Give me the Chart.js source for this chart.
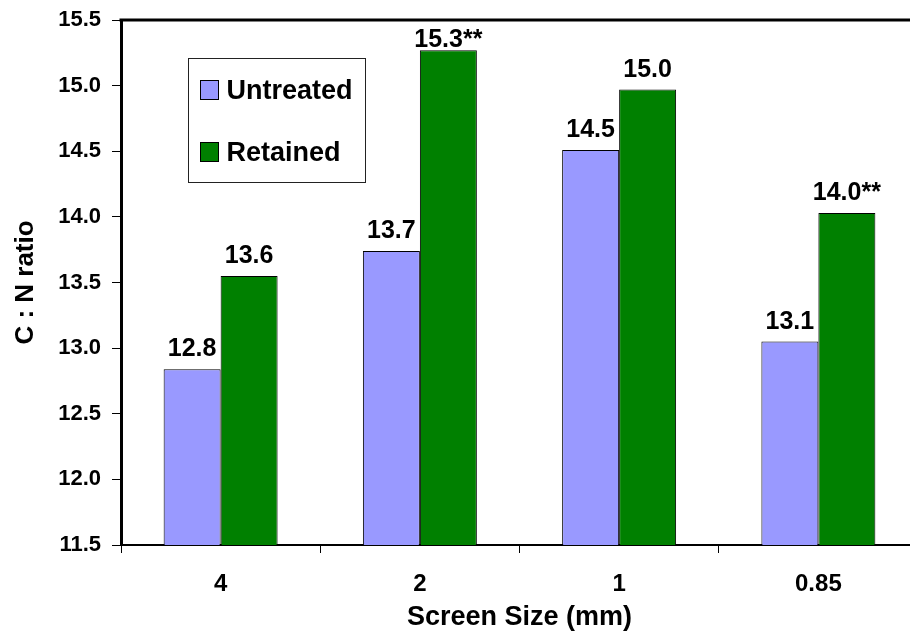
<!DOCTYPE html>
<html lang="en">
<head>
    <meta charset="UTF-8">
    <title>C : N ratio by screen size</title>
    <style>
        * {
            margin: 0;
            padding: 0;
            box-sizing: border-box;
        }

        body {
            background: #fff;
            overflow: hidden;
        }

        /* plot area runs a little past the right edge in the original */
        .chart-box {
            position: relative;
            width: 920px;
            height: 638px;
        }
    </style>
</head>
<body>

    <div class="chart-box">
        <canvas id="cnChart"></canvas>
    </div>

    <script src="https://cdn.jsdelivr.net/npm/chart.js"></script>
    <script>
        const categories = ['4', '2', '1', '0.85'];
        const untreated = [12.84, 13.74, 14.51, 13.05];
        const retained = [13.55, 15.27, 14.97, 14.03];
        const untreatedLabels = ['12.8', '13.7', '14.5', '13.1'];
        const retainedLabels = ['13.6', '15.3**', '15.0', '14.0**'];
        const yMin = 11.5;
        const yMax = 15.5;
        const yStep = 0.5;

        const FONT = "'Liberation Sans', Arial, sans-serif";

        // value labels above each bar
        const barLabels = {
            id: 'barLabels',
            afterDatasetsDraw(chart) {
                const ctx = chart.ctx;
                const top = chart.chartArea.top;
                ctx.save();
                ctx.font = 'bold 25px ' + FONT;
                ctx.fillStyle = '#000';
                ctx.textAlign = 'center';
                ctx.textBaseline = 'alphabetic';
                chart.data.datasets.forEach((ds, i) => {
                    chart.getDatasetMeta(i).data.forEach((bar, j) => {
                        const y = Math.max(bar.y - 13, top + 27);
                        ctx.fillText(ds.valueLabels[j], bar.x, y);
                    });
                });
                ctx.restore();
            }
        };

        // top frame line + boxed legend inside the plot
        const frameAndLegend = {
            id: 'frameAndLegend',
            afterDraw(chart) {
                const ctx = chart.ctx;
                const a = chart.chartArea;
                ctx.save();
                ctx.strokeStyle = '#000';
                ctx.lineWidth = 3;
                ctx.beginPath();
                ctx.moveTo(a.left - 1.5, a.top);
                ctx.lineTo(a.right, a.top);
                ctx.stroke();

                const bx = Math.round(a.left) + 67.5, by = Math.round(a.top) + 38.5;
                ctx.fillStyle = '#fff';
                ctx.fillRect(bx, by, 177, 124);
                ctx.lineWidth = 1;
                ctx.strokeStyle = '#222';
                ctx.strokeRect(bx, by, 177, 124);

                ctx.font = 'bold 27px ' + FONT;
                ctx.textBaseline = 'middle';
                ctx.textAlign = 'left';
                chart.data.datasets.forEach((ds, i) => {
                    const cy = by + 32 + i * 62;
                    ctx.fillStyle = ds.backgroundColor;
                    ctx.fillRect(bx + 12, cy - 10, 18, 19);
                    ctx.strokeStyle = '#000';
                    ctx.strokeRect(bx + 12, cy - 10, 18, 19);
                    ctx.fillStyle = '#000';
                    ctx.fillText(ds.label, bx + 38, cy + 1);
                });
                ctx.restore();
            }
        };

        const ctx = document.getElementById('cnChart').getContext('2d');
        const cnChart = new Chart(ctx, {
            type: 'bar',
            data: {
                labels: categories,
                datasets: [{
                    label: 'Untreated',
                    data: untreated,
                    valueLabels: untreatedLabels,
                    backgroundColor: '#9999FF',
                    borderColor: '#000',
                    borderWidth: 1
                }, {
                    label: 'Retained',
                    data: retained,
                    valueLabels: retainedLabels,
                    backgroundColor: '#008000',
                    borderColor: '#000',
                    borderWidth: 1
                }]
            },
            options: {
                responsive: true,
                maintainAspectRatio: false,
                animation: false,
                categoryPercentage: 0.572,
                barPercentage: 1.0,
                layout: {
                    padding: { top: 20, right: 2, left: 0, bottom: 0 }
                },
                plugins: {
                    legend: { display: false },
                    tooltip: { enabled: false }
                },
                scales: {
                    x: {
                        afterFit(scale) {
                            scale.height = 93;
                            scale.paddingLeft = 0;
                            scale.paddingRight = 0;
                        },
                        grid: {
                            drawOnChartArea: false,
                            drawTicks: true,
                            tickLength: 8,
                            color: '#000'
                        },
                        border: { color: '#000', width: 2 },
                        ticks: {
                            color: '#000',
                            padding: 17,
                            font: { family: FONT, size: 24, weight: 'bold' }
                        },
                        title: {
                            display: true,
                            text: 'Screen Size (mm)',
                            color: '#000',
                            padding: { top: 0, bottom: 4 },
                            font: { family: FONT, size: 27, weight: 'bold' }
                        }
                    },
                    y: {
                        min: yMin,
                        max: yMax,
                        afterFit(scale) {
                            scale.width = 121;
                            scale.paddingTop = 0;
                            scale.paddingBottom = 0;
                        },
                        grid: {
                            drawOnChartArea: false,
                            drawTicks: true,
                            tickLength: 9,
                            color: '#000'
                        },
                        border: { color: '#000', width: 3 },
                        ticks: {
                            stepSize: yStep,
                            color: '#000',
                            padding: 11,
                            font: { family: FONT, size: 22, weight: 'bold' },
                            callback: v => v.toFixed(1)
                        },
                        title: {
                            display: true,
                            text: 'C : N ratio',
                            color: '#000',
                            padding: { top: 10, bottom: 0 },
                            font: { family: FONT, size: 26, weight: 'bold' }
                        }
                    }
                }
            },
            plugins: [barLabels, frameAndLegend]
        });
    </script>

</body>
</html>
